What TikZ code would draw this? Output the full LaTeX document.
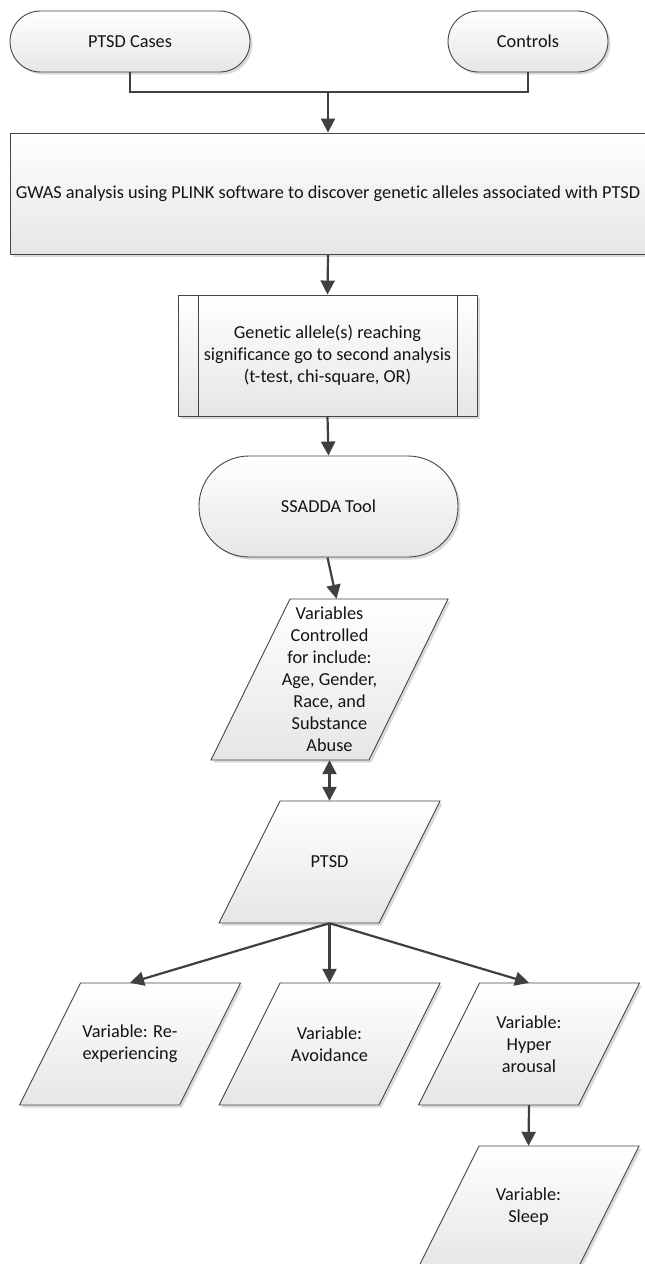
\documentclass[tikz,border=0pt]{standalone}
\usepackage{fontspec}
\setmainfont{Carlito}[Ligatures=NoCommon]
\usetikzlibrary{arrows.meta,shadows}
\definecolor{bordc}{HTML}{454545}
\definecolor{linec}{HTML}{404040}
\definecolor{fillb}{HTML}{E6E6E6}
\definecolor{txtc}{HTML}{141414}
\definecolor{shadc}{HTML}{DADADA}
\newcommand\fs{\fontsize{18.3}{22}\selectfont}
\tikzset{
  boxbase/.style={draw=bordc, line width=0.9pt, top color=white, bottom color=fillb,
    font=\fs, text=txtc, align=center, inner sep=0pt,
    drop shadow={shadow xshift=2.5pt, shadow yshift=-2.5pt, fill=shadc, opacity=1}},
  shapefill/.style={draw=bordc, line width=0.9pt, top color=white, bottom color=fillb},
  txtnode/.style={font=\fs, text=txtc, align=center, inner sep=0pt},
  conn/.style={draw=linec, line width=2.2pt},
  arr/.style={conn, -{Triangle[length=14pt,width=14pt]}},
  darr/.style={conn, {Triangle[length=14pt,width=14pt]}-{Triangle[length=14pt,width=14pt]}},
}
% name, cx, cy, w, h, slant, text
\newcommand\paranode[7]{%
  \fill[shadc] ({#2-#4/2+#6+2.5},{#3-#5/2+2.5}) -- ({#2+#4/2+2.5},{#3-#5/2+2.5})
     -- ({#2+#4/2-#6+2.5},{#3+#5/2+2.5}) -- ({#2-#4/2+2.5},{#3+#5/2+2.5}) -- cycle;
  \path[shapefill] ({#2-#4/2+#6},{#3-#5/2}) -- ({#2+#4/2},{#3-#5/2})
     -- ({#2+#4/2-#6},{#3+#5/2}) -- ({#2-#4/2},{#3+#5/2}) -- cycle;
  \node[txtnode, minimum width=#4, minimum height=#5] (#1) at (#2,#3) {#7};
}
\begin{document}
\begin{tikzpicture}[x=1pt, y=-1pt]
\useasboundingbox (0,0) rectangle (645,1264);
\fill[white] (0,0) rectangle (645,1264);

% top terminators
\node[boxbase, rounded corners=30.5pt, minimum width=240pt, minimum height=61pt] (cases) at (130,41.5) {PTSD Cases};
\node[boxbase, rounded corners=30.5pt, minimum width=160pt, minimum height=61pt] (controls) at (528,41.5) {Controls};
\coordinate (merge) at (328,92);

% GWAS
\node[boxbase, minimum width=636pt, minimum height=121pt] (gwas) at (328,193.5)
  {GWAS analysis using PLINK software to discover genetic alleles associated with PTSD};

% predefined process
\node[boxbase, minimum width=299pt, minimum height=121pt] (pre) at (327.5,355.5)
  {Genetic allele(s) reaching\\significance go to second analysis\\(t-test, chi-square, OR)};
\draw[bordc, line width=0.9pt] ([xshift=21pt]pre.north west) -- ([xshift=21pt]pre.south west);
\draw[bordc, line width=0.9pt] ([xshift=-20pt]pre.north east) -- ([xshift=-20pt]pre.south east);

% SSADDA
\node[boxbase, rounded corners=50pt, minimum width=259pt, minimum height=101pt] (ssadda) at (328.5,506.5) {SSADDA Tool};

% parallelograms
\paranode{vars}{329.5}{679.5}{237}{161}{79}{Variables\\Controlled\\for include:\\Age, Gender,\\Race, and\\Substance\\Abuse}
\paranode{ptsd}{329.5}{862}{221}{122}{61}{PTSD}
\paranode{reexp}{130}{1044}{221}{122}{61}{Variable: Re-\\experiencing}
\paranode{avoid}{329.5}{1044}{221}{122}{61}{Variable:\\Avoidance}
\paranode{hyper}{529}{1044}{221}{122}{61}{Variable:\\Hyper\\arousal}
\paranode{sleep}{528.5}{1207}{221}{122}{61}{Variable:\\Sleep}

% connectors
\draw[conn] (cases.south) |- (merge) -| (controls.south);
\draw[arr] (merge) -- (gwas.north);
\draw[arr] (gwas.south) -- (pre.north);
\draw[arr] (pre.south) -- (ssadda.north);
\draw[arr] ([xshift=-1pt]ssadda.south) -- ([xshift=7pt]vars.north);
\draw[darr] (vars.south) -- (ptsd.north);
\draw[arr] (ptsd.south) -- (reexp.north);
\draw[arr] (ptsd.south) -- (avoid.north);
\draw[arr] (ptsd.south) -- (hyper.north);
\draw[arr] (hyper.south) -- (sleep.north);
\end{tikzpicture}
\end{document}
